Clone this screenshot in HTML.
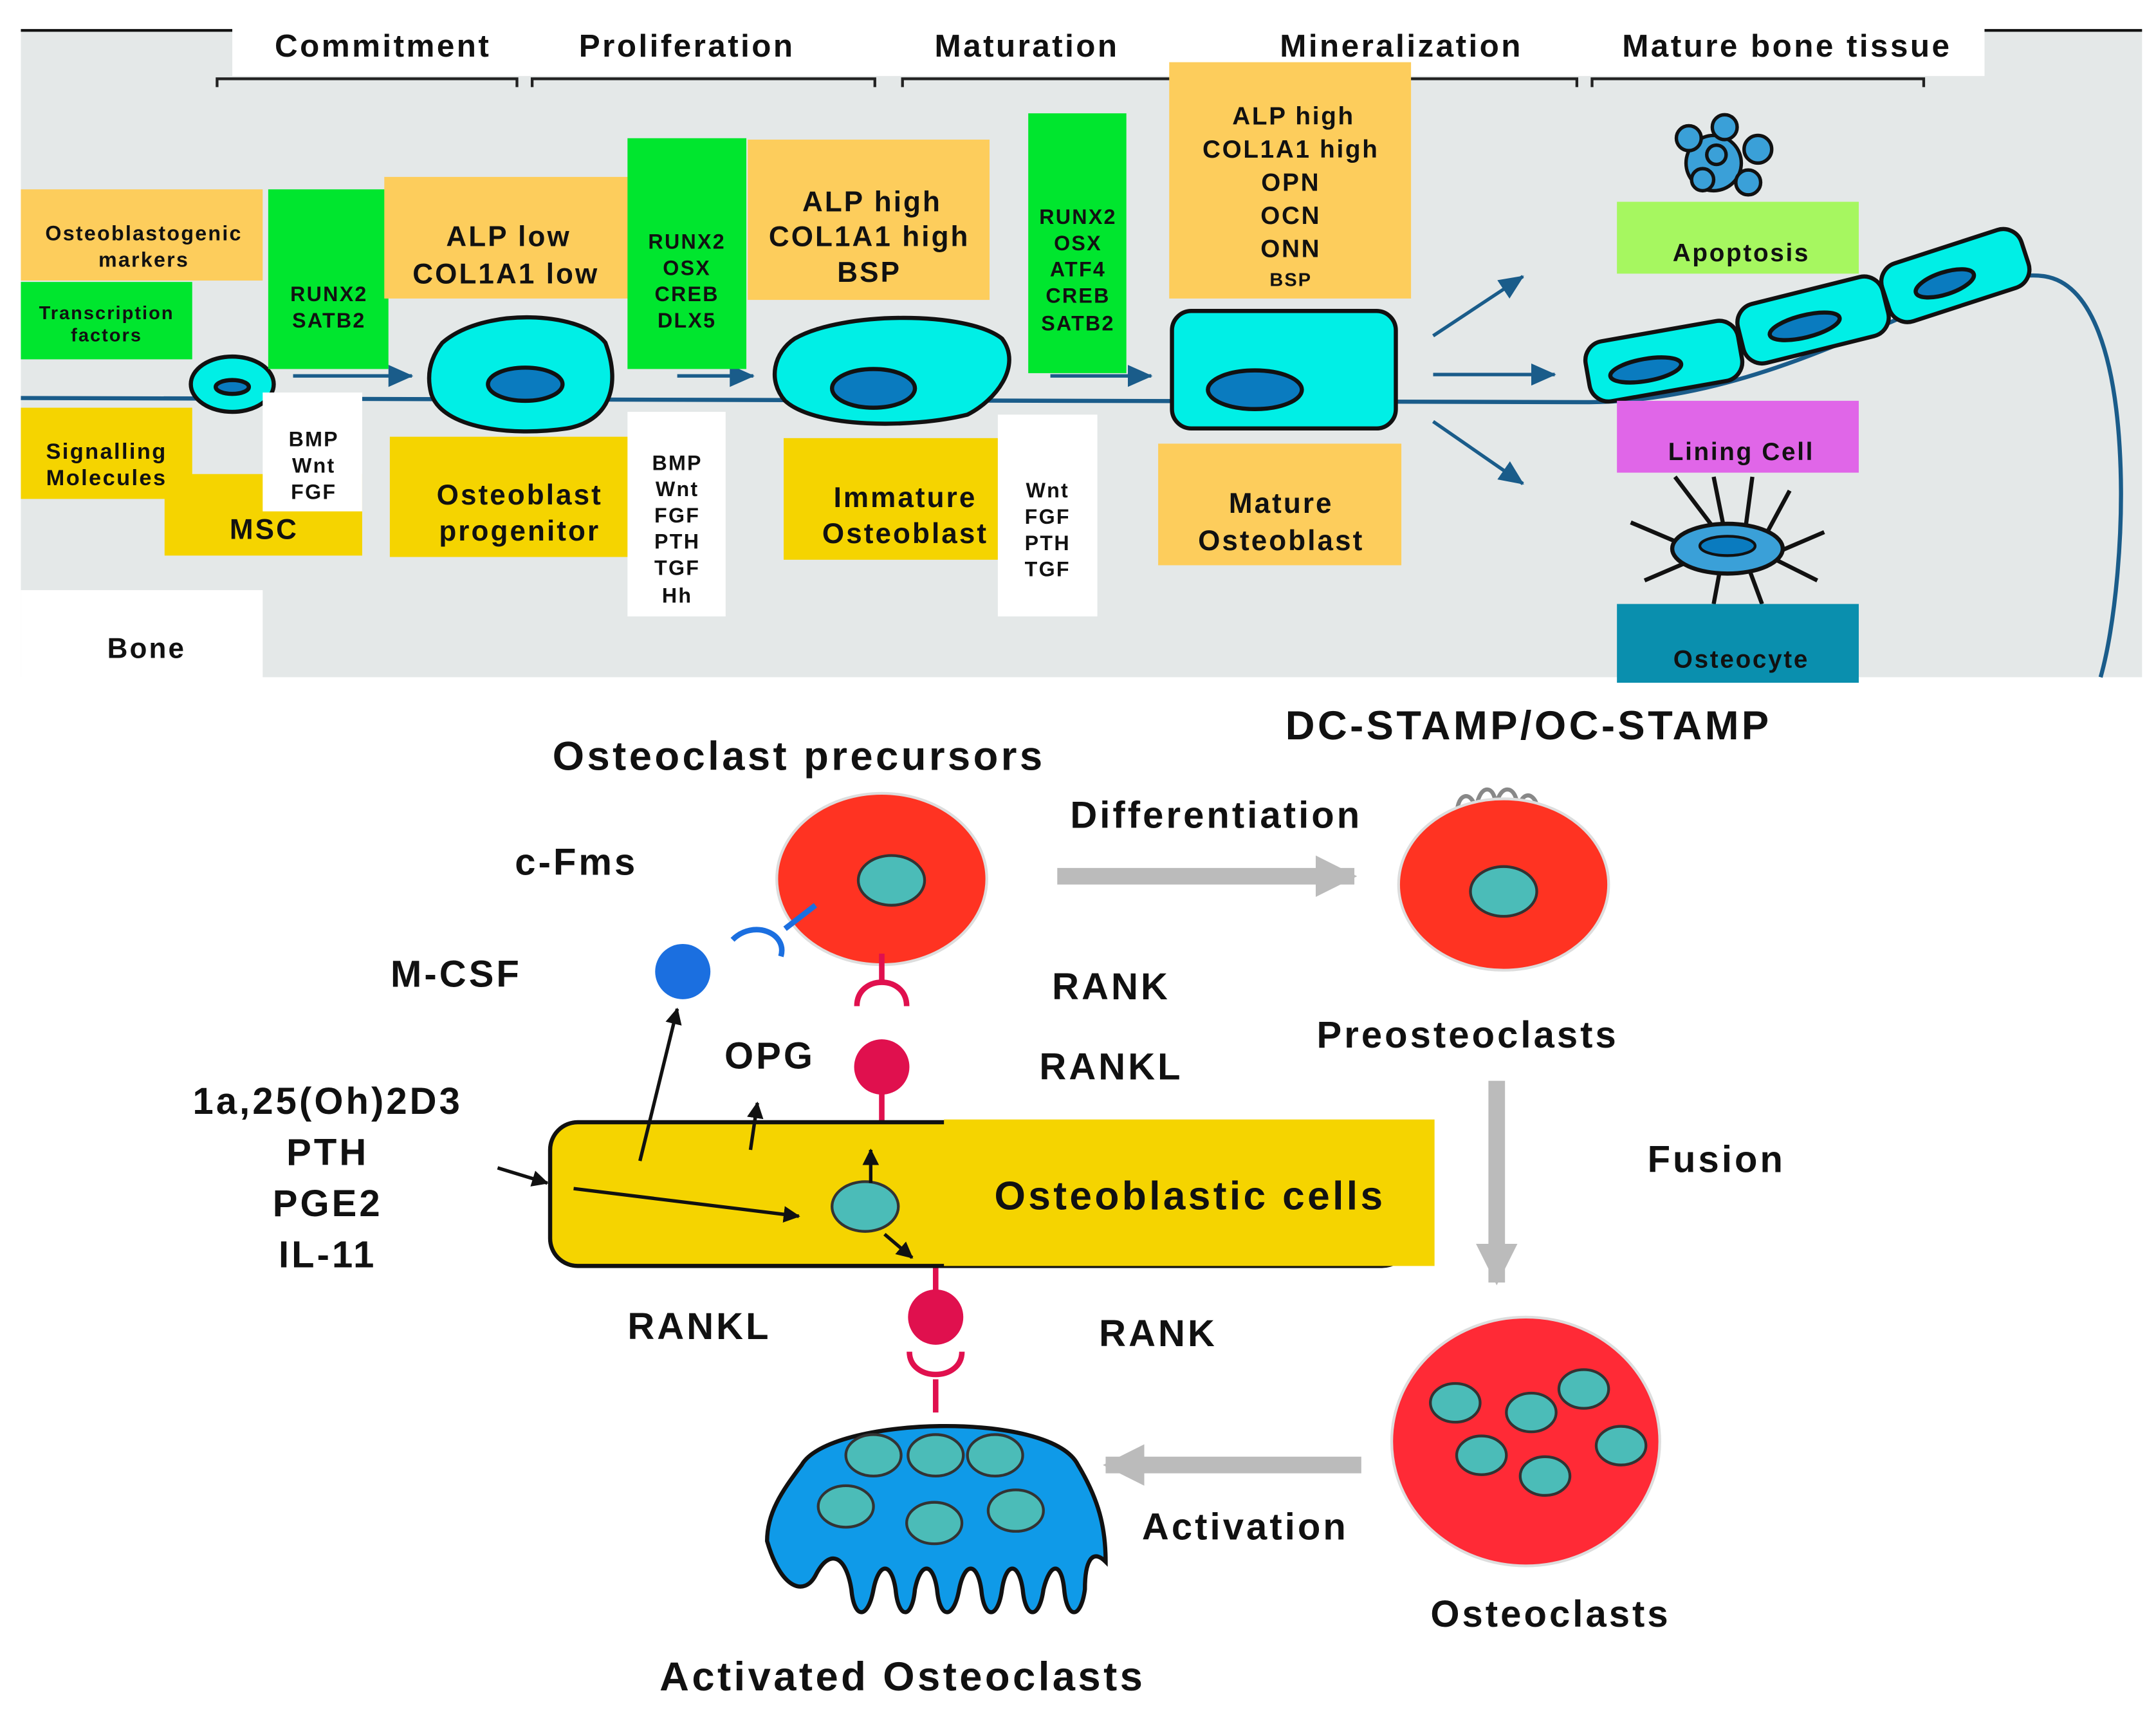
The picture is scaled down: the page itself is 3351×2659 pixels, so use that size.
<!DOCTYPE html>
<html><head><meta charset="utf-8"><style>
html,body{margin:0;padding:0;background:#fff}
svg{display:block}
text{font-family:"Liberation Sans",sans-serif;font-weight:bold;fill:#111;text-anchor:middle;letter-spacing:0.07em}
</style></head><body>
<svg width="3351" height="2659" viewBox="0 0 1560 1238" xmlns="http://www.w3.org/2000/svg">
<defs>
<marker id="ak" markerWidth="12" markerHeight="12" refX="11" refY="6" orient="auto" markerUnits="userSpaceOnUse"><path d="M0,0 L12,6 L0,12z" fill="#111"/></marker>
<marker id="ag" markerWidth="30" markerHeight="30" refX="28" refY="15" orient="auto" markerUnits="userSpaceOnUse"><path d="M0,0 L30,15 L0,30z" fill="#bbb"/></marker>
<marker id="ab2" markerWidth="18" markerHeight="16" refX="17" refY="8" orient="auto" markerUnits="userSpaceOnUse"><path d="M0,0 L18,8 L0,16z" fill="#1a5c8a"/></marker>
</defs>
<rect x="15" y="22" width="1535" height="468" fill="#e4e8e8"/>
<rect x="15" y="427" width="175" height="70" fill="#fff"/>
<rect x="168" y="8" width="1268" height="47" fill="#fff"/>
<line x1="15" y1="22" x2="168" y2="22" stroke="#111" stroke-width="2"/>
<line x1="1436" y1="22" x2="1550" y2="22" stroke="#111" stroke-width="2"/>
<g font-size="23">
<text x="277" y="41">Commitment</text><text x="497" y="41">Proliferation</text><text x="743" y="41">Maturation</text><text x="1014" y="41">Mineralization</text><text x="1293" y="41">Mature bone tissue</text>
</g>
<g stroke="#222" stroke-width="2" fill="none">
<path d="M157,63 V57 H374 V63"/><path d="M385,63 V57 H633 V63"/><path d="M653,63 V57 H878 V63"/><path d="M900,63 V57 H1141 V63"/><path d="M1152,63 V57 H1392 V63"/>
</g>
<path d="M15,288 L1150,291 C1300,290 1420,190 1480,200 C1550,212 1540,420 1520,490" stroke="#1a5c8a" stroke-width="3" fill="none"/>
<g stroke="#111" stroke-width="3">
<ellipse cx="168" cy="278" rx="30" ry="20" fill="#00efe6"/><ellipse cx="168" cy="280" rx="12" ry="5" fill="#0a7bbf"/>
<path d="M320,248 C350,222 420,225 438,248 C450,280 440,305 410,310 C370,316 320,310 312,285 C308,270 312,258 320,248z" fill="#00efe6"/><ellipse cx="380" cy="278" rx="27" ry="12" fill="#0a7bbf"/>
<path d="M575,245 C610,225 700,225 725,245 C740,265 720,290 700,300 C660,310 590,310 568,290 C555,275 560,255 575,245z" fill="#00efe6"/><ellipse cx="632" cy="281" rx="30" ry="14" fill="#0a7bbf"/>
<rect x="848" y="225" width="162" height="85" rx="14" fill="#00efe6"/><ellipse cx="908" cy="282" rx="34" ry="14" fill="#0a7bbf"/>
<g transform="rotate(-10 1200 262)"><rect x="1148" y="240" width="112" height="44" rx="14" fill="#00efe6"/><ellipse cx="1190" cy="266" rx="26" ry="8" fill="#0a7bbf"/></g>
<g transform="rotate(-14 1310 232)"><rect x="1258" y="210" width="108" height="44" rx="14" fill="#00efe6"/><ellipse cx="1305" cy="235" rx="26" ry="8" fill="#0a7bbf"/></g>
<g transform="rotate(-18 1413 200)"><rect x="1362" y="178" width="106" height="44" rx="14" fill="#00efe6"/><ellipse cx="1406" cy="203" rx="22" ry="8" fill="#0a7bbf"/></g>
</g>
<g fill="#3aa0d8" stroke="#111" stroke-width="2.5">
<circle cx="1240" cy="118" r="20"/><circle cx="1222" cy="100" r="9"/><circle cx="1248" cy="92" r="9"/><circle cx="1272" cy="108" r="10"/><circle cx="1265" cy="132" r="9"/><circle cx="1232" cy="130" r="8"/><circle cx="1242" cy="112" r="7"/>
</g>
<g stroke="#111" stroke-width="3" fill="none">
<path d="M1250,395 L1212,345 M1250,395 L1240,345 M1262,390 L1268,345 M1275,392 L1295,355 M1285,400 L1320,385 M1285,405 L1315,420 M1265,410 L1275,437 M1245,410 L1240,437 M1225,405 L1190,420 M1220,395 L1180,378"/>
</g>
<ellipse cx="1250" cy="397" rx="40" ry="18" fill="#3aa0d8" stroke="#111" stroke-width="3"/>
<ellipse cx="1250" cy="395" rx="20" ry="7" fill="#0a7bbf" stroke="#111" stroke-width="2"/>
<g stroke="#1a5c8a" stroke-width="2.5">
<line x1="212" y1="272" x2="298" y2="272" marker-end="url(#ab2)"/>
<line x1="490" y1="272" x2="545" y2="272" marker-end="url(#ab2)"/>
<line x1="760" y1="272" x2="833" y2="272" marker-end="url(#ab2)"/>
<line x1="1037" y1="243" x2="1102" y2="200" marker-end="url(#ab2)"/>
<line x1="1037" y1="271" x2="1125" y2="271" marker-end="url(#ab2)"/>
<line x1="1037" y1="305" x2="1102" y2="350" marker-end="url(#ab2)"/>
</g>
<rect x="15" y="137" width="175" height="66" fill="#fdcd5c"/>
<rect x="15" y="204" width="124" height="56" fill="#00e62e"/>
<rect x="15" y="295" width="124" height="66" fill="#f5d400"/>
<rect x="119" y="343" width="143" height="59" fill="#f5d400"/>
<rect x="194" y="137" width="87" height="130" fill="#00e62e"/>
<rect x="190" y="284" width="72" height="86" fill="#fff"/>
<rect x="278" y="128" width="177" height="88" fill="#fdcd5c"/>
<rect x="282" y="316" width="173" height="87" fill="#f5d400"/>
<rect x="454" y="100" width="86" height="167" fill="#00e62e"/>
<rect x="454" y="298" width="71" height="148" fill="#fff"/>
<rect x="541" y="101" width="175" height="116" fill="#fdcd5c"/>
<rect x="567" y="317" width="155" height="88" fill="#f5d400"/>
<rect x="744" y="82" width="71" height="188" fill="#00e62e"/>
<rect x="722" y="300" width="72" height="146" fill="#fff"/>
<rect x="846" y="45" width="175" height="171" fill="#fdcd5c"/>
<rect x="838" y="321" width="176" height="88" fill="#fdcd5c"/>
<rect x="1170" y="146" width="175" height="52" fill="#a6f760"/>
<rect x="1170" y="290" width="175" height="52" fill="#e066e8"/>
<rect x="1170" y="437" width="175" height="57" fill="#0a8fae"/>
<g font-size="15">
<text x="104" y="174">Osteoblastogenic</text><text x="104" y="193">markers</text>
<text x="77" y="231" font-size="13.5">Transcription</text><text x="77" y="247" font-size="13.5">factors</text>
<text x="77" y="332" font-size="16">Signalling</text><text x="77" y="351" font-size="16">Molecules</text>
<text x="238" y="218">RUNX2</text><text x="238" y="237">SATB2</text>
<text x="227" y="323">BMP</text><text x="227" y="342">Wnt</text><text x="227" y="361">FGF</text>
<text x="497" y="180">RUNX2</text><text x="497" y="199">OSX</text><text x="497" y="218">CREB</text><text x="497" y="237">DLX5</text>
<text x="490" y="340">BMP</text><text x="490" y="359">Wnt</text><text x="490" y="378">FGF</text><text x="490" y="397">PTH</text><text x="490" y="416">TGF</text><text x="490" y="436">Hh</text>
<text x="780" y="162">RUNX2</text><text x="780" y="181">OSX</text><text x="780" y="200">ATF4</text><text x="780" y="219">CREB</text><text x="780" y="239">SATB2</text>
<text x="758" y="360">Wnt</text><text x="758" y="379">FGF</text><text x="758" y="398">PTH</text><text x="758" y="417">TGF</text>
</g>
<g font-size="20.5">
<text x="191" y="390">MSC</text>
<text x="368" y="178">ALP low</text><text x="366" y="205">COL1A1 low</text>
<text x="376" y="365">Osteoblast</text><text x="376" y="391">progenitor</text>
<text x="631" y="153">ALP high</text><text x="629" y="178">COL1A1 high</text><text x="629" y="204">BSP</text>
<text x="655" y="367">Immature</text><text x="655" y="393">Osteoblast</text>
<text x="927" y="371">Mature</text><text x="927" y="398">Osteoblast</text>
<text x="106" y="476">Bone</text>
</g>
<g font-size="18">
<text x="936" y="90">ALP high</text><text x="934" y="114">COL1A1 high</text><text x="934" y="138">OPN</text><text x="934" y="162">OCN</text><text x="934" y="186">ONN</text><text x="934" y="207" font-size="13.5">BSP</text>
<text x="1260" y="189">Apoptosis</text><text x="1260" y="333">Lining Cell</text><text x="1260" y="483">Osteocyte</text>
</g>
<g font-size="29.5">
<text x="578" y="557">Osteoclast precursors</text>
<text x="1106" y="535">DC-STAMP/OC-STAMP</text>
<text x="653" y="1223">Activated Osteoclasts</text>
</g>
<g font-size="27">
<text x="417" y="633">c-Fms</text><text x="330" y="714">M-CSF</text><text x="880" y="599">Differentiation</text>
<text x="804" y="723">RANK</text><text x="804" y="781">RANKL</text><text x="1062" y="758">Preosteoclasts</text>
<text x="557" y="773">OPG</text>
<text x="237" y="806">1a,25(Oh)2D3</text><text x="237" y="843">PTH</text><text x="237" y="880">PGE2</text><text x="237" y="917">IL-11</text>
<text x="1242" y="848">Fusion</text><text x="506" y="969">RANKL</text><text x="838" y="974">RANK</text>
<text x="1122" y="1177">Osteoclasts</text><text x="901" y="1114">Activation</text>
</g>
<path d="M1055,600 C1050,570 1068,570 1068,590 C1068,565 1085,565 1082,590 C1082,565 1100,565 1098,590 C1100,565 1118,575 1112,600" stroke="#888" stroke-width="3" fill="none"/>
<ellipse cx="638" cy="636" rx="76" ry="62" fill="#ff3322" stroke="#ddd" stroke-width="2"/>
<ellipse cx="645" cy="637" rx="24" ry="18" fill="#4bbcb8" stroke="#333" stroke-width="2"/>
<ellipse cx="1088" cy="640" rx="76" ry="62" fill="#ff3322" stroke="#ddd" stroke-width="2"/>
<ellipse cx="1088" cy="645" rx="24" ry="18" fill="#4bbcb8" stroke="#333" stroke-width="2"/>
<path d="M590,655 L568,672" stroke="#1b6fe0" stroke-width="4"/>
<path d="M530,680 C545,665 570,675 565,692" stroke="#1b6fe0" stroke-width="4" fill="none"/>
<circle cx="494" cy="703" r="20" fill="#1b6fe0"/>
<g stroke="#e0104e" stroke-width="4" fill="none">
<line x1="638" y1="690" x2="638" y2="710"/>
<path d="M620,728 C620,705 656,705 656,728"/>
<line x1="638" y1="790" x2="638" y2="812"/>
<line x1="677" y1="916" x2="677" y2="935"/>
<path d="M658,978 C658,1000 696,1000 696,978"/>
<line x1="677" y1="998" x2="677" y2="1022"/>
</g>
<circle cx="638" cy="772" r="20" fill="#e0104e"/>
<circle cx="677" cy="953" r="20" fill="#e0104e"/>
<rect x="398" y="812" width="622" height="104" rx="20" fill="#f5d400" stroke="#111" stroke-width="3"/>
<rect x="683" y="810" width="355" height="106" fill="#f5d400"/>
<text x="861" y="875" font-size="29">Osteoblastic cells</text>
<ellipse cx="626" cy="873" rx="24" ry="18" fill="#4bbcb8" stroke="#333" stroke-width="2"/>
<g stroke="#111" stroke-width="2.5">
<line x1="360" y1="845" x2="396" y2="856" marker-end="url(#ak)"/>
<line x1="415" y1="860" x2="578" y2="880" marker-end="url(#ak)"/>
<line x1="463" y1="840" x2="490" y2="730" marker-end="url(#ak)"/>
<line x1="543" y1="832" x2="548" y2="798" marker-end="url(#ak)"/>
<line x1="630" y1="856" x2="630" y2="832" marker-end="url(#ak)"/>
<line x1="640" y1="893" x2="660" y2="910" marker-end="url(#ak)"/>
</g>
<g stroke="#bbb" stroke-width="12">
<line x1="765" y1="634" x2="980" y2="634" marker-end="url(#ag)"/>
<line x1="1083" y1="782" x2="1083" y2="928" marker-end="url(#ag)"/>
<line x1="985" y1="1060" x2="800" y2="1060" marker-end="url(#ag)"/>
</g>
<ellipse cx="1104" cy="1043" rx="97" ry="90" fill="#ff2a36" stroke="#ddd" stroke-width="2"/>
<g fill="#4bbcb8" stroke="#333" stroke-width="2">
<ellipse cx="1053" cy="1015" rx="18" ry="14"/><ellipse cx="1108" cy="1022" rx="18" ry="14"/><ellipse cx="1146" cy="1005" rx="18" ry="14"/>
<ellipse cx="1072" cy="1053" rx="18" ry="14"/><ellipse cx="1173" cy="1046" rx="18" ry="14"/><ellipse cx="1118" cy="1068" rx="18" ry="14"/>
</g>
<path d="M580,1060 C600,1025 760,1020 780,1060 C795,1085 800,1105 800,1130 C790,1120 785,1130 785,1150 C782,1172 772,1172 770,1150 C768,1130 760,1130 755,1150 C752,1172 742,1172 740,1150 C737,1130 728,1130 725,1150 C722,1172 712,1172 710,1150 C707,1130 698,1130 694,1150 C690,1172 680,1172 678,1150 C675,1130 666,1130 662,1150 C660,1172 650,1172 648,1150 C645,1130 636,1130 632,1150 C628,1172 618,1172 616,1150 C612,1125 600,1120 590,1140 C582,1155 565,1150 555,1115 C555,1095 565,1080 580,1060z" fill="#0f9ae8" stroke="#111" stroke-width="3"/>
<g fill="#4bbcb8" stroke="#333" stroke-width="2">
<ellipse cx="632" cy="1053" rx="20" ry="15"/><ellipse cx="677" cy="1053" rx="20" ry="15"/><ellipse cx="720" cy="1053" rx="20" ry="15"/>
<ellipse cx="612" cy="1090" rx="20" ry="15"/><ellipse cx="676" cy="1102" rx="20" ry="15"/><ellipse cx="735" cy="1093" rx="20" ry="15"/>
</g>
</svg>
</body></html>
